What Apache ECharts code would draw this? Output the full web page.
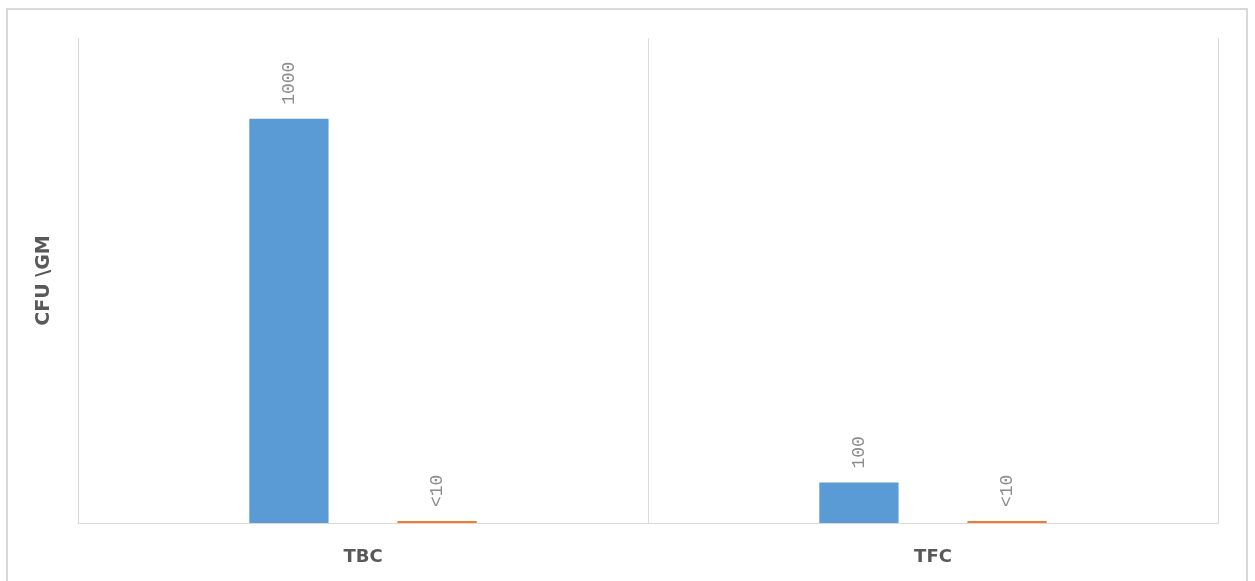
<!DOCTYPE html>
<html><head><meta charset="utf-8">
<script src="https://cdn.jsdelivr.net/npm/echarts@6/dist/echarts.min.js"></script>
<style>html,body{margin:0;padding:0;background:#fff}#c{width:1255px;height:581px}</style>
</head><body><div id="c"></div>
<script>
const categories = ['TBC', 'TFC'];
const seriesA = [1000, 100];
const seriesB = [5, 5];
const labelsA = ['1000', '100'];
const labelsB = ['<10', '<10'];
const yAxisName = 'CFU \\GM';

const chart = echarts.init(document.getElementById('c'));
const lbl = (arr) => ({
  show: true, position: 'top', rotate: 90, align: 'left', verticalAlign: 'middle',
  distance: 14, fontFamily: 'Liberation Mono', fontSize: 18, color: '#8c8c8c',
  formatter: p => arr[p.dataIndex]
});
chart.setOption({
  animation: false,
  graphic: [{type: 'rect', shape: {x: 7, y: 9, width: 1240, height: 600}, style: {fill: 'none', stroke: '#d9d9d9', lineWidth: 2}, silent: true}],
  grid: {left: 78, right: 37, top: 38, bottom: 58},
  xAxis: {
    type: 'category', data: categories,
    axisLine: {lineStyle: {color: '#d9d9d9'}}, axisTick: {show: false},
    splitLine: {show: true, lineStyle: {color: '#d9d9d9'}},
    axisLabel: {margin: 25, fontFamily: 'DejaVu Sans', fontWeight: 'bold', fontSize: 18, color: '#595959'}
  },
  yAxis: {
    type: 'value', min: 0, max: 1200,
    name: yAxisName, nameLocation: 'middle', nameGap: 24,
    nameTextStyle: {fontFamily: 'DejaVu Sans', fontWeight: 'bold', fontSize: 19, color: '#595959'},
    axisLabel: {show: false}, axisLine: {show: false}, axisTick: {show: false}, splitLine: {show: false}
  },
  series: [
    {type: 'bar', data: seriesA, barWidth: '13.9%', barGap: '87%', itemStyle: {color: '#5b9bd5'}, label: lbl(labelsA)},
    {type: 'bar', data: seriesB, barWidth: '13.9%', itemStyle: {color: '#ed7d31'}, label: lbl(labelsB)}
  ]
});
</script></body></html>
